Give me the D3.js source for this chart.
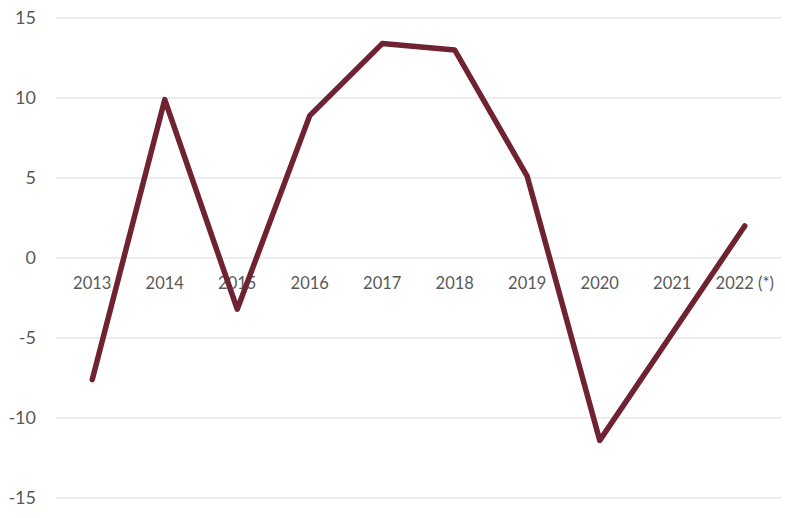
<!DOCTYPE html>
<html><head><meta charset="utf-8">
<script src="https://cdn.jsdelivr.net/npm/d3@7"></script>
<style>body{margin:0;background:#fff}svg{display:block}</style>
</head><body>
<svg id="c" width="785" height="518"></svg>
<script>
const categories = ["2013","2014","2015","2016","2017","2018","2019","2020","2021","2022 (*)"];
const values = [-7.6, 9.9, -3.2, 8.9, 13.4, 13.0, 5.1, -11.4, -4.7, 2.0];
const yTicks = [-15,-10,-5,0,5,10,15];

(function () {
const svg = d3.select("#c");
const mLeft = 56, mRight = 781, mTop = 18, mBottom = 498;
const x = d3.scaleBand().domain(categories).range([mLeft, mRight]);
const y = d3.scaleLinear().domain([-15, 15]).range([mBottom, mTop]);

svg.append("g").selectAll("line").data(yTicks).join("line")
  .attr("x1", mLeft).attr("x2", mRight)
  .attr("y1", d => y(d)).attr("y2", d => y(d))
  .attr("stroke", "#d9d9d9").attr("stroke-width", 1);

const yAxis = d3.axisLeft(y).tickValues(yTicks).tickSize(0).tickPadding(0)
  .tickFormat(d => String(d));
const gy = svg.append("g").attr("transform", "translate(36,0)").call(yAxis);
gy.select(".domain").remove();
gy.selectAll("text").attr("font-family", "Lato, 'Open Sans', sans-serif")
  .attr("font-size", 18).attr("fill", "#595959");

const xAxis = d3.axisBottom(x).tickSize(0).tickPadding(0);
const gx = svg.append("g").attr("transform", `translate(0,${y(0) + 19})`).call(xAxis);
gx.select(".domain").remove();
gx.selectAll("text").attr("font-family", "Lato, 'Open Sans', sans-serif")
  .attr("font-size", 16.5).attr("fill", "#595959");

const line = d3.line().x((d, i) => x(categories[i]) + x.bandwidth() / 2).y(d => y(d));
svg.append("path").datum(values).attr("d", line)
  .attr("fill", "none").attr("stroke", "#6e2232").attr("stroke-width", 5.5)
  .attr("stroke-linejoin", "round").attr("stroke-linecap", "round");
})();
</script>
</body></html>
